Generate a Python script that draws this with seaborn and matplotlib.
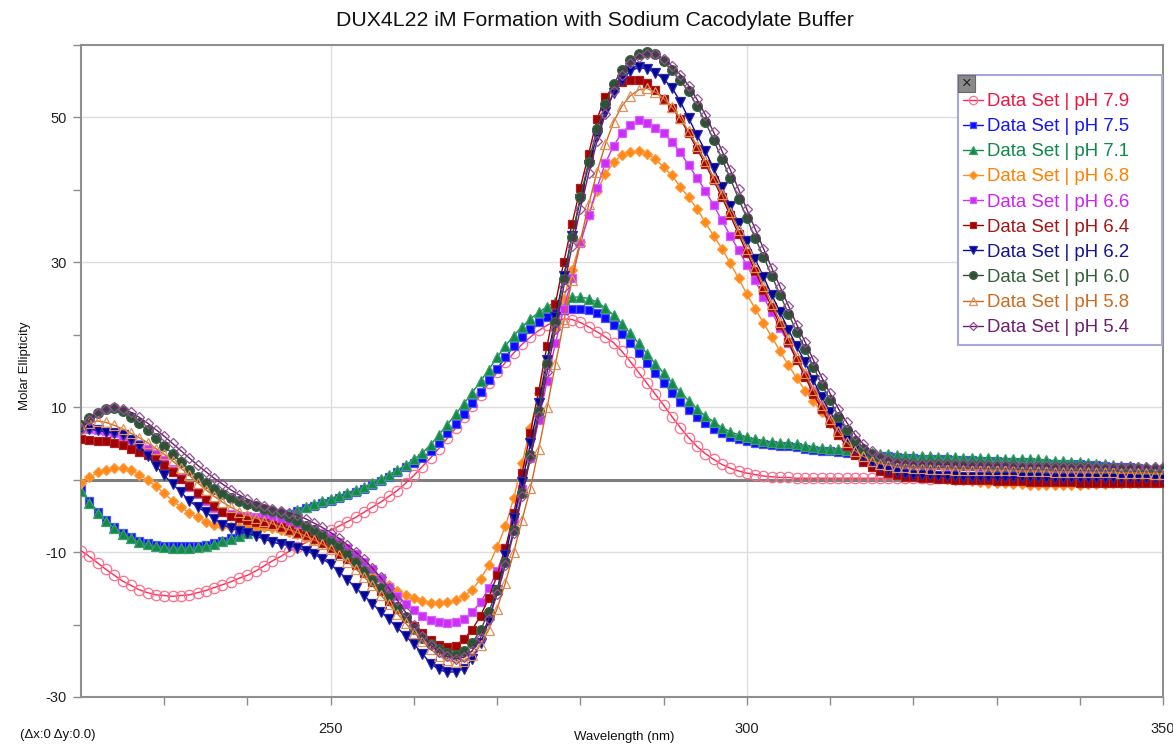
import matplotlib
matplotlib.use("Agg")
import matplotlib.pyplot as plt
from matplotlib.legend_handler import HandlerLine2D
from matplotlib.patches import Rectangle
import pandas as pd
import seaborn as sns

# CD spectra, 1 nm steps from 220 to 350 nm
wavelength_nm = list(range(220, 351))

ph_7_9 = [
    -9.8, -10.6, -11.5, -12.4, -13.2, -14.0, -14.6, -15.2, -15.6, -15.9,
    -16.0, -16.1, -16.0, -15.9, -15.6, -15.3, -14.9, -14.5, -14.1, -13.6,
    -13.2, -12.6, -11.9, -11.2, -10.6, -9.9, -9.3, -8.7, -8.1, -7.5,
    -7.0, -6.4, -5.8, -5.2, -4.5, -3.8, -3.1, -2.3, -1.5, -0.5,
    0.6, 1.8, 3.0, 4.3, 5.7, 7.1, 8.6, 10.1, 11.7, 13.3,
    14.8, 16.2, 17.5, 18.7, 19.7, 20.6, 21.3, 21.9, 22.2, 22.1,
    21.7, 21.1, 20.4, 19.7, 18.9, 17.7, 16.3, 14.8, 13.3, 11.8,
    10.3, 8.7, 7.2, 5.8, 4.6, 3.6, 2.8, 2.1, 1.6, 1.2,
    0.9, 0.7, 0.5, 0.4, 0.3, 0.3, 0.2, 0.2, 0.2, 0.2,
    0.2, 0.2, 0.2, 0.2, 0.2, 0.2, 0.2, 0.2, 0.2, 0.2,
    0.2, 0.2, 0.1, 0.2, 0.2, 0.1, 0.1, 0.2, 0.1, 0.1,
    0.1, 0.1, 0.1, 0.1, 0.0, 0.1, 0.0, 0.0, 0.0, 0.0,
    0.0, 0.0, -0.1, 0.0, 0.0, -0.1, 0.0, 0.0, 0.0, 0.0, 0.0,
]

ph_7_5 = [
    -1.2, -3.0, -4.4, -5.5, -6.5, -7.3, -7.9, -8.4, -8.7, -9.0,
    -9.1, -9.2, -9.2, -9.2, -9.1, -9.0, -8.8, -8.4, -8.1, -7.7,
    -7.3, -6.8, -6.2, -5.7, -5.2, -4.7, -4.3, -3.9, -3.6, -3.2,
    -2.9, -2.5, -2.1, -1.7, -1.3, -0.8, -0.2, 0.4, 1.0, 1.7,
    2.3, 3.0, 3.9, 5.1, 6.4, 7.7, 9.1, 10.6, 12.1, 13.7,
    15.3, 16.9, 18.4, 19.7, 20.8, 21.7, 22.4, 23.0, 23.4, 23.6,
    23.6, 23.4, 23.0, 22.3, 21.3, 20.1, 18.9, 17.5, 16.1, 14.7,
    13.4, 12.0, 10.7, 9.6, 8.6, 7.8, 7.0, 6.4, 5.9, 5.6,
    5.3, 5.1, 4.9, 4.8, 4.7, 4.6, 4.5, 4.3, 4.1, 4.0,
    3.9, 3.8, 3.7, 3.6, 3.5, 3.4, 3.3, 3.2, 3.1, 3.0,
    3.0, 2.9, 2.9, 2.8, 2.8, 2.7, 2.7, 2.7, 2.6, 2.6,
    2.6, 2.5, 2.5, 2.4, 2.4, 2.3, 2.3, 2.2, 2.2, 2.1,
    2.1, 2.0, 2.0, 1.9, 1.8, 1.8, 1.7, 1.6, 1.5, 1.4, 1.3,
]

ph_7_1 = [
    -1.5, -3.2, -4.6, -5.7, -6.7, -7.5, -8.1, -8.6, -8.9, -9.2,
    -9.3, -9.4, -9.4, -9.4, -9.3, -9.2, -8.9, -8.5, -8.2, -7.8,
    -7.4, -6.9, -6.3, -5.8, -5.2, -4.7, -4.2, -3.8, -3.4, -3.0,
    -2.6, -2.2, -1.8, -1.4, -1.0, -0.5, 0.1, 0.7, 1.3, 2.0,
    2.8, 3.7, 4.8, 6.2, 7.6, 9.0, 10.5, 12.0, 13.6, 15.2,
    16.9, 18.5, 19.9, 21.1, 22.2, 23.1, 23.9, 24.5, 24.9, 25.2,
    25.2, 25.0, 24.5, 23.7, 22.7, 21.5, 20.2, 18.8, 17.4, 16.0,
    14.7, 13.4, 12.1, 10.9, 9.8, 8.8, 8.0, 7.2, 6.6, 6.2,
    5.9, 5.6, 5.4, 5.2, 5.1, 5.0, 4.9, 4.7, 4.5, 4.4,
    4.3, 4.2, 4.1, 3.9, 3.8, 3.7, 3.6, 3.5, 3.4, 3.3,
    3.3, 3.2, 3.2, 3.1, 3.1, 3.1, 3.0, 3.0, 3.0, 3.0,
    2.9, 2.9, 2.9, 2.9, 2.8, 2.8, 2.7, 2.6, 2.6, 2.5,
    2.4, 2.3, 2.2, 2.1, 2.0, 1.9, 1.9, 1.8, 1.7, 1.7, 1.6,
]

ph_6_8 = [
    -0.5, 0.3, 1.0, 1.4, 1.6, 1.6, 1.3, 0.7, -0.1, -0.9,
    -1.9, -2.9, -3.8, -4.6, -5.2, -5.8, -6.2, -6.4, -6.5, -6.5,
    -6.5, -6.5, -6.6, -6.7, -6.9, -7.2, -7.5, -7.9, -8.3, -8.8,
    -9.3, -9.9, -10.6, -11.4, -12.2, -13.0, -13.8, -14.5, -15.3, -15.9,
    -16.4, -16.8, -17.0, -17.0, -16.9, -16.6, -16.1, -15.2, -13.7, -11.8,
    -9.3, -6.4, -2.5, 2.3, 7.2, 11.9, 16.4, 20.8, 25.0, 29.0,
    32.8, 36.5, 39.8, 42.2, 43.8, 44.8, 45.2, 45.4, 45.0, 44.3,
    43.1, 42.0, 40.4, 39.0, 37.4, 35.5, 33.7, 31.9, 29.9, 27.8,
    25.6, 23.6, 21.6, 19.7, 17.7, 15.8, 14.0, 12.3, 10.8, 9.3,
    7.8, 6.3, 4.9, 3.7, 2.8, 2.1, 1.6, 1.2, 0.9, 0.7,
    0.5, 0.4, 0.3, 0.2, 0.1, 0.0, -0.1, -0.2, -0.3, -0.4,
    -0.5, -0.5, -0.6, -0.6, -0.7, -0.7, -0.7, -0.7, -0.7, -0.7,
    -0.7, -0.6, -0.6, -0.6, -0.5, -0.5, -0.4, -0.4, -0.3, -0.3, -0.3,
]

ph_6_6 = [
    7.0, 7.0, 6.9, 6.7, 6.4, 6.0, 5.5, 4.9, 4.3, 3.6,
    2.7, 1.5, 0.2, -1.0, -2.0, -3.0, -3.9, -4.5, -4.8, -5.0,
    -5.0, -5.1, -5.2, -5.4, -5.6, -5.8, -6.1, -6.4, -6.8, -7.3,
    -7.9, -8.6, -9.4, -10.3, -11.3, -12.4, -13.6, -14.8, -16.0, -17.1,
    -18.0, -18.8, -19.4, -19.7, -19.8, -19.7, -19.2, -18.3, -16.9, -15.0,
    -12.6, -9.4, -5.5, -1.3, 3.0, 8.3, 13.6, 18.8, 23.6, 27.8,
    32.6, 36.5, 40.3, 43.7, 46.1, 47.9, 49.0, 49.6, 49.3, 48.6,
    47.8, 46.6, 45.2, 43.4, 41.7, 39.9, 37.9, 35.8, 33.7, 31.7,
    29.6, 27.5, 25.2, 23.1, 20.9, 18.8, 16.5, 14.4, 12.3, 10.3,
    8.4, 6.8, 5.4, 4.3, 3.5, 2.9, 2.5, 2.3, 2.2, 2.1,
    2.1, 2.0, 2.0, 2.0, 1.9, 1.9, 1.9, 1.9, 1.8, 1.8,
    1.8, 1.8, 1.7, 1.7, 1.7, 1.6, 1.6, 1.6, 1.5, 1.5,
    1.5, 1.4, 1.4, 1.4, 1.3, 1.3, 1.2, 1.2, 1.1, 1.1, 1.0,
]

ph_6_4 = [
    5.6, 5.5, 5.4, 5.3, 5.1, 4.8, 4.3, 3.8, 3.4, 2.8,
    2.0, 1.0, 0.1, -0.9, -1.8, -2.7, -3.6, -4.4, -5.0, -5.3,
    -5.6, -5.8, -6.0, -6.3, -6.6, -6.9, -7.3, -7.7, -8.2, -8.8,
    -9.5, -10.2, -10.9, -11.8, -12.9, -14.1, -15.4, -16.7, -17.9, -19.1,
    -20.2, -21.1, -22.2, -22.8, -23.1, -22.9, -22.0, -20.7, -18.8, -16.3,
    -13.2, -9.5, -4.6, 0.9, 6.5, 12.3, 18.5, 24.3, 30.0, 35.3,
    40.3, 45.0, 49.8, 52.8, 54.3, 54.9, 55.1, 55.1, 54.7, 53.8,
    52.6, 51.3, 49.8, 47.8, 45.7, 43.6, 41.3, 39.0, 36.5, 33.9,
    31.3, 28.8, 26.2, 23.8, 21.3, 19.0, 16.5, 14.2, 11.8, 9.7,
    7.8, 6.2, 4.6, 3.4, 2.5, 1.8, 1.2, 0.9, 0.6, 0.4,
    0.3, 0.2, 0.2, 0.1, 0.1, 0.0, 0.0, -0.1, -0.1, -0.1,
    -0.2, -0.2, -0.2, -0.2, -0.3, -0.3, -0.3, -0.3, -0.3, -0.3,
    -0.4, -0.4, -0.4, -0.4, -0.4, -0.4, -0.4, -0.5, -0.5, -0.5, -0.5,
]

ph_6_2 = [
    7.2, 7.0, 6.8, 6.6, 6.4, 6.1, 5.5, 4.6, 3.3, 1.9,
    0.6, -0.6, -1.7, -2.9, -3.8, -4.5, -5.4, -6.2, -6.7, -7.1,
    -7.4, -7.8, -8.2, -8.6, -8.9, -9.1, -9.4, -9.8, -10.3, -10.9,
    -11.7, -12.7, -13.8, -14.9, -16.0, -17.1, -18.2, -19.3, -20.4, -21.6,
    -22.7, -24.0, -25.4, -26.2, -26.6, -26.5, -26.1, -24.8, -22.6, -19.5,
    -15.2, -10.4, -5.3, -0.3, 5.0, 10.6, 16.5, 22.4, 28.1, 33.6,
    38.7, 43.4, 47.5, 50.8, 53.4, 55.2, 56.4, 56.9, 56.7, 56.2,
    55.3, 54.1, 52.2, 49.9, 47.6, 45.4, 43.0, 40.4, 37.8, 35.4,
    32.9, 30.4, 28.0, 25.5, 23.1, 20.7, 18.4, 16.2, 13.7, 11.4,
    9.3, 7.3, 5.6, 4.2, 3.1, 2.3, 1.7, 1.3, 1.0, 0.8,
    0.7, 0.6, 0.6, 0.5, 0.5, 0.5, 0.4, 0.4, 0.4, 0.4,
    0.3, 0.3, 0.3, 0.3, 0.3, 0.3, 0.2, 0.2, 0.2, 0.2,
    0.2, 0.2, 0.2, 0.2, 0.2, 0.2, 0.2, 0.2, 0.2, 0.2, 0.2,
]

ph_6_0 = [
    7.5, 8.5, 9.2, 9.8, 9.9, 9.5, 8.6, 7.8, 6.8, 5.7,
    4.6, 3.6, 2.5, 1.4, 0.4, -0.4, -1.3, -2.0, -2.5, -2.9,
    -3.3, -3.7, -4.0, -4.3, -4.6, -5.1, -5.7, -6.4, -7.0, -7.7,
    -8.4, -9.2, -10.2, -11.3, -12.6, -13.8, -14.9, -16.1, -17.6, -19.0,
    -20.6, -21.8, -22.7, -23.4, -23.9, -24.2, -23.7, -22.5, -20.8, -18.2,
    -15.2, -11.4, -6.9, -1.8, 3.4, 9.5, 16.0, 21.8, 27.7, 33.5,
    39.0, 43.9, 48.4, 51.8, 54.6, 56.6, 57.9, 58.7, 59.0, 58.7,
    57.8, 56.5, 55.1, 53.6, 51.6, 49.4, 46.9, 44.3, 41.6, 38.8,
    36.1, 33.3, 30.8, 28.1, 25.5, 22.9, 20.4, 18.1, 15.6, 13.1,
    11.0, 8.7, 6.8, 5.3, 4.3, 3.5, 3.0, 2.7, 2.4, 2.3,
    2.2, 2.2, 2.1, 2.1, 2.1, 2.0, 2.0, 2.0, 2.0, 1.9,
    1.9, 1.9, 1.9, 1.8, 1.8, 1.8, 1.8, 1.7, 1.7, 1.7,
    1.7, 1.7, 1.6, 1.6, 1.6, 1.6, 1.6, 1.5, 1.5, 1.5, 1.5,
]

ph_5_8 = [
    7.2, 7.8, 8.1, 7.9, 7.5, 7.0, 6.4, 5.8, 5.1, 4.3,
    3.5, 2.6, 1.6, 0.6, -0.4, -1.4, -2.3, -3.1, -3.8, -4.4,
    -4.9, -5.3, -5.7, -6.1, -6.5, -6.9, -7.3, -7.8, -8.3, -8.9,
    -9.6, -10.4, -11.3, -12.3, -13.4, -14.6, -15.9, -17.2, -18.5, -19.8,
    -21.1, -22.3, -23.4, -24.3, -24.9, -25.2, -25.0, -24.2, -22.8, -20.7,
    -17.8, -14.2, -10.0, -5.5, -1.2, 4.3, 10.0, 15.9, 21.8, 27.6,
    33.0, 38.0, 42.5, 46.3, 49.4, 51.6, 53.0, 53.8, 54.0, 53.5,
    52.6, 51.4, 49.9, 48.1, 46.1, 44.0, 41.7, 39.4, 36.9, 34.4,
    31.8, 29.3, 26.7, 24.3, 21.8, 19.4, 17.0, 14.7, 12.4, 10.3,
    8.4, 6.7, 5.2, 4.0, 3.2, 2.6, 2.2, 2.0, 1.8, 1.7,
    1.6, 1.6, 1.5, 1.5, 1.5, 1.4, 1.4, 1.4, 1.4, 1.3,
    1.3, 1.3, 1.3, 1.2, 1.2, 1.2, 1.2, 1.1, 1.1, 1.1,
    1.1, 1.0, 1.0, 1.0, 1.0, 0.9, 0.9, 0.9, 0.9, 0.8, 0.8,
]

ph_5_4 = [
    7.0, 8.2, 9.2, 9.8, 10.0, 9.8, 9.3, 8.6, 7.8, 6.9,
    6.0, 5.0, 4.0, 3.0, 2.0, 1.1, 0.2, -0.6, -1.4, -2.1,
    -2.7, -3.2, -3.6, -4.0, -4.3, -4.6, -4.9, -5.4, -6.0, -6.6,
    -7.3, -8.1, -9.0, -10.0, -11.0, -12.2, -13.5, -15.0, -16.6, -18.3,
    -20.1, -21.6, -22.8, -23.8, -24.4, -24.7, -24.5, -23.6, -21.8, -19.2,
    -15.8, -11.8, -7.3, -2.3, 3.0, 8.8, 14.8, 20.8, 26.6, 32.2,
    37.4, 42.3, 46.7, 50.5, 53.6, 55.9, 57.5, 58.4, 58.8, 58.7,
    58.1, 57.1, 55.9, 54.4, 52.5, 50.4, 48.0, 45.4, 42.8, 40.1,
    37.3, 34.6, 31.9, 29.2, 26.6, 24.0, 21.4, 19.0, 16.5, 14.1,
    11.9, 9.8, 7.9, 6.2, 4.9, 3.9, 3.2, 2.7, 2.4, 2.3,
    2.2, 2.2, 2.2, 2.1, 2.1, 2.1, 2.1, 2.0, 2.0, 2.0,
    2.0, 2.0, 1.9, 1.9, 1.9, 1.9, 1.9, 1.8, 1.8, 1.8,
    1.8, 1.8, 1.8, 1.8, 1.7, 1.7, 1.7, 1.7, 1.7, 1.7, 1.7,
]

series_labels = [
    "Data Set | pH 7.9", "Data Set | pH 7.5", "Data Set | pH 7.1",
    "Data Set | pH 6.8", "Data Set | pH 6.6", "Data Set | pH 6.4",
    "Data Set | pH 6.2", "Data Set | pH 6.0", "Data Set | pH 5.8",
    "Data Set | pH 5.4",
]
series_values = [ph_7_9, ph_7_5, ph_7_1, ph_6_8, ph_6_6, ph_6_4,
                 ph_6_2, ph_6_0, ph_5_8, ph_5_4]

# line colour, marker, marker face, marker edge, marker size, legend text colour
styles = [
    ("#ff2a55", "o", "none", "#ff6f8c", 7.5, "#f01440"),
    ("#1010ff", "s", "#0a0aff", "#5050ff", 6.0, "#1414ff"),
    ("#168a4c", "^", "#138a4b", "#3aa06a", 7.0, "#10884a"),
    ("#ff8a1a", "D", "#ff8a1a", "#ff9a3a", 5.5, "#ff8000"),
    ("#cc30f5", "s", "#cc2ef8", "#d860ff", 6.0, "#cc22ee"),
    ("#a00000", "s", "#a00000", "#b02020", 6.0, "#a31515"),
    ("#0c0c9c", "v", "#000099", "#2a2aa8", 7.0, "#141496"),
    ("#2f5436", "o", "#2e5235", "#3e6245", 7.0, "#355e3b"),
    ("#d2691e", "^", "none", "#e0905a", 7.0, "#cd6a1e"),
    ("#6b1e6b", "D", "none", "#935093", 5.5, "#6e1e6e"),
]

frames = []
for lab, vals in zip(series_labels, series_values):
    frames.append(pd.DataFrame({"Wavelength": wavelength_nm,
                                "Ellipticity": vals, "Series": lab}))
data = pd.concat(frames, ignore_index=True)

sns.set_theme(style="white")
plt.rcParams["font.family"] = ["Liberation Sans", "DejaVu Sans"]
plt.rcParams["axes.unicode_minus"] = False

W, H = 1173, 744
fig = plt.figure(figsize=(W / 100, H / 100), dpi=100)
ax = fig.add_axes([81 / W, 1 - 697 / H, (1163 - 81) / W, (697 - 45) / H])

handles = []
for lab, st in zip(series_labels, styles):
    color, mk, mfc, mec, ms, _ = st
    sub = data[data["Series"] == lab]
    sns.lineplot(data=sub, x="Wavelength", y="Ellipticity", ax=ax,
                 color=color, lw=1.0, marker=mk, markersize=ms,
                 markerfacecolor=mfc, markeredgecolor=mec,
                 markeredgewidth=0.9, errorbar=None, legend=False,
                 zorder=3)
    handles.append(ax.lines[-1])

ax.axhline(0, color="#7f7f7f", lw=2.2, zorder=2)

ax.set_xlim(220, 350)
ax.set_ylim(-30, 60)
ax.set_xticks([250, 300, 350])
ax.set_xticks([230, 240, 260, 270, 280, 290, 310, 320, 330, 340], minor=True)
ax.set_yticks([-30, -10, 10, 30, 50])
ax.set_yticks([-20, 0, 20, 40, 60], minor=True)
ax.grid(True, which="major", color="#dddddd", lw=1.0, zorder=0)
ax.tick_params(axis="both", which="both", direction="out", length=6,
               width=1, color="#8c8c8c", labelsize=10.5, labelcolor="#222222",
               bottom=True, left=True)
ax.tick_params(axis="x", pad=12)
ax.tick_params(axis="y", pad=4)
ax.set_xlabel("")
ax.set_ylabel("")
for side in ["left", "bottom", "top", "right"]:
    ax.spines[side].set_color("#8f8f8f")
    ax.spines[side].set_linewidth(1.5)


class EndMarkerHandler(HandlerLine2D):
    """Legend handle with the line on the left and the marker at its end."""

    def get_xdata(self, legend, xdescent, ydescent, width, height, fontsize):
        xdata = [-xdescent, -xdescent + width]
        return xdata, [-xdescent + width * 0.9]


# legend box drawn as its own patch so its padding can be set freely
ax.add_patch(Rectangle((958 / W, 1 - 345 / H), (1162 - 958) / W, (345 - 75) / H,
                       transform=fig.transFigure, facecolor="white",
                       edgecolor="#a8a8d8", lw=1.5, zorder=9, clip_on=False))
leg = ax.legend(handles, series_labels,
                handler_map={h: EndMarkerHandler() for h in handles},
                loc="upper left", bbox_to_anchor=(963 / W, 1 - 93 / H),
                bbox_transform=fig.transFigure, borderaxespad=0, borderpad=0,
                fontsize=13.4, frameon=False, handlelength=1.1,
                handletextpad=0.2, labelspacing=0.435, markerscale=0.8)
leg.set_zorder(10)
for txt, st in zip(leg.get_texts(), styles):
    txt.set_color(st[5])

# close box on the legend corner
ax.add_patch(Rectangle((958 / W, 1 - 92 / H), 17 / W, 17 / H,
                       transform=fig.transFigure, facecolor="#8a8a8a",
                       edgecolor="#6a6a6a", lw=0.8, zorder=11, clip_on=False))
ax.text(966.5 / W, 1 - 83.5 / H, "\u00d7", transform=fig.transFigure,
        ha="center", va="center", fontsize=12, color="#222222", zorder=12)

fig.text(595 / W, 1 - 20 / H,
         "DUX4L22 iM Formation with Sodium Cacodylate Buffer",
         ha="center", va="center", fontsize=15.3, color="#111111")
fig.text(25 / W, 1 - 366 / H, "Molar Ellipticity", rotation=90,
         ha="center", va="center", fontsize=9.5, color="#111111")
fig.text(624 / W, 1 - 737 / H, "Wavelength (nm)", ha="center",
         va="center", fontsize=9.5, color="#111111")
fig.text(20 / W, 1 - 735 / H, "(\u0394x:0 \u0394y:0.0)", ha="left",
         va="center", fontsize=9.5, color="#111111")

fig.savefig("out.png", dpi=100)
